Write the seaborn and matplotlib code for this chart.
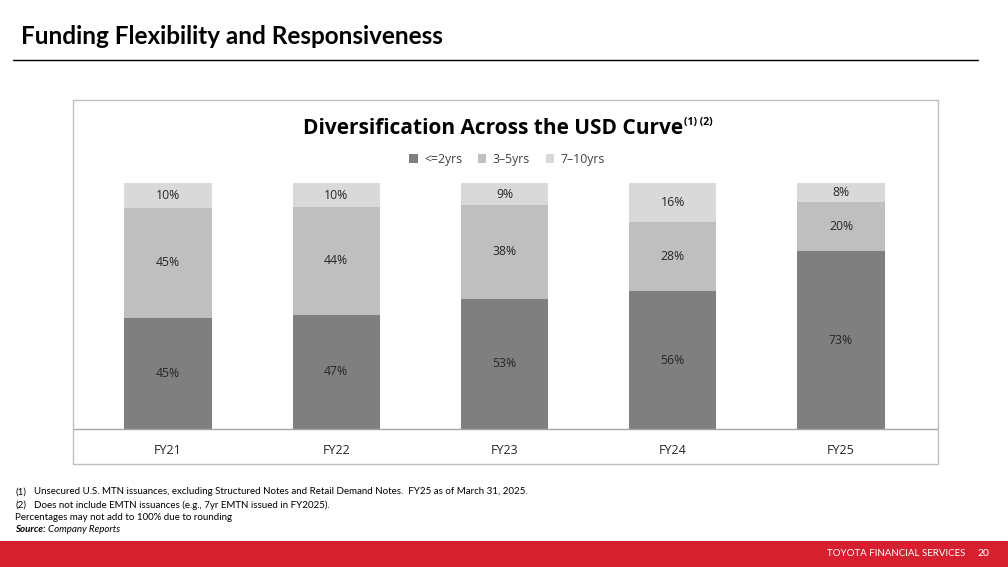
import matplotlib
matplotlib.use("Agg")
import matplotlib.pyplot as plt
import seaborn as sns
import pandas as pd
import numpy as np
from matplotlib.patches import Rectangle
from matplotlib.lines import Line2D

# ---- data ----
categories = ["FY21", "FY22", "FY23", "FY24", "FY25"]
short_term = [45, 47, 53, 56, 73]   # <=2yrs
mid_term = [45, 44, 38, 28, 20]     # 3-5yrs
long_term = [10, 10, 9, 16, 8]      # 7-10yrs
series_names = ["<=2yrs", "3\u20135yrs", "7\u201310yrs"]
series_colors = ["#7f7f7f", "#bfbfbf", "#d9d9d9"]

sns.set_theme(style="white")
plt.rcParams["font.family"] = ["Open Sans", "DejaVu Sans"]

W, H = 1008, 567
fig = plt.figure(figsize=(W / 100, H / 100), dpi=100)

def fx(px):
    return px / W

def fy(py):
    return 1 - py / H

# slide title and rule
fig.text(fx(21), fy(37), "Funding Flexibility and Responsiveness", fontsize=17.5,
         fontweight="bold", family=["Lato", "DejaVu Sans"], color="#000000",
         ha="left", va="center")
fig.add_artist(Line2D([fx(13), fx(978)], [fy(60), fy(60)], color="#000000", lw=1))

# chart box
fig.add_artist(Rectangle((fx(73), fy(464)), fx(865), 364 / H, fill=False,
                         edgecolor="#bfbfbf", lw=1))

# axes
left_px, right_px = 74, 937
base_px, top_px = 429, 183
ax = fig.add_axes([fx(left_px), fy(base_px), fx(right_px - left_px), (base_px - top_px) / H])

df = pd.DataFrame({"cat": categories, "s": short_term, "m": mid_term, "l": long_term})
total = df[["s", "m", "l"]].sum(axis=1)
df["h_s"] = df["s"] / total * 100
df["h_m"] = (df["s"] + df["m"]) / total * 100
df["h_l"] = (df["s"] + df["m"] + df["l"]) / total * 100

for col, color in [("h_l", series_colors[2]), ("h_m", series_colors[1]), ("h_s", series_colors[0])]:
    sns.barplot(data=df, x="cat", y=col, color=color, width=0.52, ax=ax,
                saturation=1, edgecolor="none", linewidth=0)

if ax.get_legend() is not None:
    ax.get_legend().remove()

ax.set_ylim(0, 100)
spacing = 168.25
ax.set_xlim(-(168 - left_px) / spacing, 4 + (right_px - 841) / spacing)
ax.set_xlabel("")
ax.set_ylabel("")
ax.set_yticks([])
for s in ["top", "left", "right"]:
    ax.spines[s].set_visible(False)
ax.spines["bottom"].set_color("#a6a6a6")
ax.spines["bottom"].set_linewidth(1)
ax.tick_params(axis="x", length=0, pad=11, labelsize=9, labelcolor="#262626")

# segment labels
for i in range(len(categories)):
    lows = [0, df["h_s"][i], df["h_m"][i]]
    highs = [df["h_s"][i], df["h_m"][i], df["h_l"][i]]
    vals = [short_term[i], mid_term[i], long_term[i]]
    for lo, hi, v in zip(lows, highs, vals):
        ax.text(i, (lo + hi) / 2, f"{v}%", ha="center", va="center",
                fontsize=8.8, color="#262626")

# legend
handles = [Rectangle((0, 0), 1, 1, facecolor=c, edgecolor="none") for c in series_colors]
leg = fig.legend(handles, series_names, loc="center", bbox_to_anchor=(fx(507), fy(159)),
                 ncol=3, frameon=False, fontsize=8.8, handlelength=0.7, handleheight=0.7,
                 handletextpad=0.5, columnspacing=1.3)
for t in leg.get_texts():
    t.set_color("#404040")

# chart title with superscripts
main = fig.text(fx(493), fy(128), "Diversification Across the USD Curve", fontsize=15,
                fontweight="bold", color="#000000", ha="center", va="center")
fig.canvas.draw()
bb = main.get_window_extent()
fig.text(bb.x1 / W + fx(1), fy(123), "(1) (2)", fontsize=7.5, fontweight="bold",
         color="#000000", ha="left", va="center")

# footnotes
foot_font = ["Lato", "DejaVu Sans"]
fs = 7
fig.text(fx(15), fy(492), "(1)", fontsize=fs, family=foot_font, va="center", color="#000000")
fig.text(fx(34), fy(492), "Unsecured U.S. MTN issuances, excluding Structured Notes and Retail Demand Notes.  FY25 as of March 31, 2025.",
         fontsize=fs, family=foot_font, va="center", color="#000000")
fig.text(fx(15), fy(505), "(2)", fontsize=fs, family=foot_font, va="center", color="#000000")
fig.text(fx(34), fy(505), "Does not include EMTN issuances (e.g., 7yr EMTN issued in FY2025).",
         fontsize=fs, family=foot_font, va="center", color="#000000")
fig.text(fx(15), fy(517), "Percentages may not add to 100% due to rounding",
         fontsize=fs, family=foot_font, va="center", color="#000000")
src = fig.text(fx(15), fy(530), "Source:", fontsize=fs, family=foot_font, va="center",
               fontweight="bold", style="italic", color="#000000")
fig.canvas.draw()
sb = src.get_window_extent()
fig.text(sb.x1 / W + fx(3), fy(530), "Company Reports", fontsize=fs, family=foot_font,
         va="center", style="italic", color="#000000")

# footer band
fig.add_artist(Rectangle((0, 0), 1, (H - 541) / H, facecolor="#d7202f", edgecolor="none"))
fig.text(fx(965), fy(554), "TOYOTA FINANCIAL SERVICES", fontsize=7, family=foot_font,
         color="white", ha="right", va="center")
fig.text(fx(977), fy(553), "20", fontsize=7.5, family=foot_font, color="white",
         ha="left", va="center")

fig.savefig("out.png", dpi=100)
